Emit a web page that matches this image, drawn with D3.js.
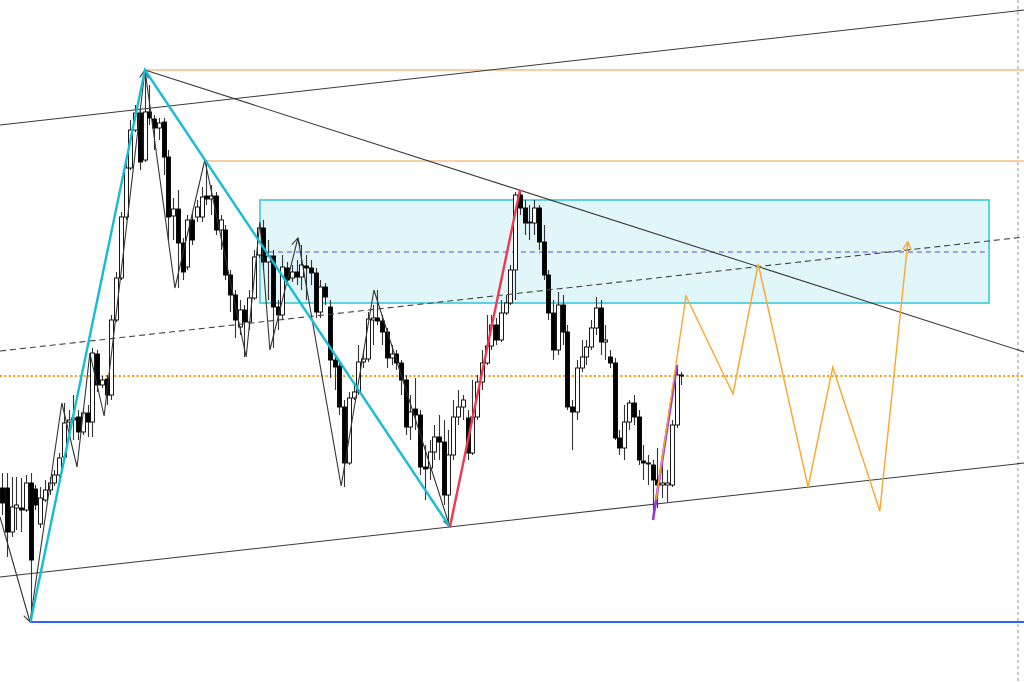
<!DOCTYPE html>
<html><head><meta charset="utf-8">
<script src="https://cdn.jsdelivr.net/npm/d3@7"></script>
<style>html,body{margin:0;padding:0;background:#fff;overflow:hidden}</style>
</head><body><svg id="c" width="1024" height="682"></svg>
<script>
// ---- candle data (index = bar number, price units) ----
const opens = [1612,1612,1568,1592,1592,1590,1617,1611,1576,1600,
1610,1617,1625,1643,1678,1680,1683,1668,1687,1678,
1746,1715,1721,1705,1780,1822,1883,1932,1970,1987,
1940,1988,1981,1972,1978,1943,1884,1891,1857,1833,
1880,1883,1883,1904,1901,1904,1870,1870,1825,1805,
1773,1790,1778,1802,1845,1872,1838,1844,1793,1785,
1832,1822,1828,1823,1834,1832,1827,1788,1813,1793,
1740,1734,1693,1637,1702,1708,1738,1741,1780,1782,
1779,1768,1742,1746,1737,1720,1673,1691,1685,1633,
1632,1648,1663,1658,1605,1645,1683,1693,1682,1647,
1683,1718,1737,1754,1775,1760,1787,1797,1830,1905,
1892,1877,1877,1892,1858,1825,1787,1750,1795,1768,
1693,1688,1732,1743,1753,1772,1792,1758,1743,1737,
1662,1652,1678,1697,1683,1639,1636,1635,1620,1615,
1615,1615,1675,1724];
const highs = [1627,1627,1623,1623,1622,1625,1627,1615,1613,1620,
1623,1630,1647,1697,1690,1705,1690,1692,1695,1752,
1750,1724,1725,1785,1828,1888,1938,1980,1995,1992,
2030,2015,1985,1982,1982,1950,1902,1910,1862,1885,
1888,1900,1913,1940,1915,1908,1885,1875,1830,1810,
1800,1795,1810,1850,1875,1880,1860,1850,1800,1845,
1838,1835,1840,1855,1845,1840,1832,1820,1817,1800,
1745,1740,1700,1708,1715,1755,1750,1788,1795,1810,
1785,1772,1755,1750,1740,1725,1705,1722,1690,1655,
1660,1675,1685,1680,1670,1700,1710,1705,1690,1720,
1725,1750,1785,1785,1782,1800,1805,1835,1908,1910,
1900,1895,1900,1895,1875,1830,1800,1808,1805,1775,
1700,1740,1760,1760,1780,1803,1800,1775,1750,1742,
1670,1695,1700,1705,1690,1655,1645,1640,1652,1647,
1630,1680,1735,1728];
const lows = [1585,1543,1563,1570,1568,1588,1478,1590,1572,1598,
1605,1614,1622,1640,1670,1660,1660,1665,1663,1663,
1708,1712,1695,1700,1778,1820,1880,1930,1968,1930,
1938,1975,1950,1960,1925,1860,1860,1812,1820,1830,
1855,1878,1878,1895,1885,1865,1850,1820,1788,1762,
1765,1743,1770,1800,1842,1830,1800,1752,1770,1780,
1815,1818,1815,1810,1800,1815,1782,1782,1795,1722,
1710,1685,1613,1635,1700,1705,1732,1738,1755,1775,
1755,1732,1735,1730,1705,1665,1660,1670,1625,1600,
1620,1640,1640,1595,1573,1640,1675,1680,1640,1645,
1680,1710,1735,1750,1755,1758,1785,1795,1800,1885,
1865,1860,1865,1850,1820,1780,1740,1745,1755,1690,
1650,1680,1728,1735,1750,1765,1745,1740,1732,1660,
1645,1640,1670,1675,1635,1620,1615,1580,1592,1602,
1598,1613,1672,1715];
const closes = [1597,1568,1593,1595,1590,1617,1540,1595,1602,1610,
1617,1625,1642,1677,1680,1682,1668,1687,1678,1747,
1715,1720,1705,1780,1822,1883,1932,1970,1987,1938,
1988,1982,1972,1977,1943,1883,1891,1857,1828,1880,
1860,1893,1903,1901,1904,1870,1880,1825,1805,1780,
1790,1778,1802,1843,1872,1838,1844,1793,1785,1833,
1820,1828,1823,1835,1832,1827,1788,1813,1803,1740,
1733,1693,1637,1702,1708,1738,1741,1781,1782,1779,
1768,1742,1746,1737,1720,1673,1688,1685,1633,1631,
1648,1663,1658,1605,1645,1683,1693,1700,1647,1683,
1718,1737,1754,1775,1760,1787,1797,1830,1905,1892,
1877,1878,1892,1858,1825,1787,1750,1795,1768,1693,
1688,1732,1743,1753,1772,1792,1758,1760,1737,1662,
1652,1678,1697,1683,1640,1637,1637,1620,1615,1617,
1617,1675,1725,1725];

// ---- drawing objects (bar index, price) ----
const blueLevel = {from: 6, price: 1478};
const orangeLevels = [{from: 30, price: 2030}, {from: 42.7, price: 1939}];
const dottedLevel = 1724;
const zone = {i0: 54.3, i1: 207.8, top: 1900, bottom: 1797};
const midLevel = {i0: 54.3, i1: 206.9, price: 1848};
const trendLines = [
  [[-0.42, 1975], [215.2, 2090]],
  [[30.1, 2030], [215.2, 1748]],
  [[-0.42, 1523], [215.2, 1637]]
];
const dashedTrend = [[-0.42, 1749], [215.2, 1863]];
const cyanWave = [[6, 1478], [30.1, 2030], [94.3, 1573]];
const redWave = [[94.3, 1573], [109.05, 1910]];
const purpleWave = [[137.05, 1580], [142.1, 1735]];
const projection = [[137.7, 1600], [144, 1804], [153.9, 1706], [159.2, 1836], [169.7, 1613], [174.9, 1733], [184.8, 1589], [190.7, 1858]];
const zigzag = [[-0.42, 1583], [5.9, 1478], [12.6, 1697], [15.8, 1633], [18.5, 1747], [21.5, 1684], [30.1, 2030], [36.4, 1812], [42.7, 1940], [51.4, 1743], [54.3, 1878], [56.4, 1750], [62.3, 1862], [71.4, 1614], [78.3, 1810], [94.3, 1573]];
const zigzagArrows = [1, 6, 12, 15];
const vLineIndex = 213.9;

const W = 1024, H = 682;
const svg = d3.select('#c');
const x = d3.scaleLinear().domain([0, 143]).range([2, 681.25]);
const y = d3.scaleLinear().domain([1418, 2100]).range([682, 0]);
const line = d3.line().x(d => x(d[0])).y(d => y(d[1]));

// zone
svg.append('rect')
  .attr('x', x(zone.i0)).attr('y', y(zone.top))
  .attr('width', x(zone.i1) - x(zone.i0)).attr('height', y(zone.bottom) - y(zone.top))
  .attr('fill', '#e1f6f9').attr('stroke', '#4fcfe0').attr('stroke-width', 1.8);
svg.append('line')
  .attr('x1', x(midLevel.i0)).attr('x2', x(midLevel.i1))
  .attr('y1', y(midLevel.price)).attr('y2', y(midLevel.price))
  .attr('stroke', '#5a48d4').attr('stroke-width', 1).attr('stroke-dasharray', '5,4');

// horizontal levels
orangeLevels.forEach(l => {
  svg.append('line').attr('x1', x(l.from)).attr('x2', W)
    .attr('y1', y(l.price)).attr('y2', y(l.price))
    .attr('stroke', '#f0a050').attr('stroke-width', 1);
});
svg.append('line').attr('x1', 0).attr('x2', W)
  .attr('y1', y(dottedLevel)).attr('y2', y(dottedLevel))
  .attr('stroke', '#ff9800').attr('stroke-width', 2).attr('stroke-dasharray', '2,2.4');
svg.append('line').attr('x1', x(blueLevel.from)).attr('x2', W)
  .attr('y1', y(blueLevel.price)).attr('y2', y(blueLevel.price))
  .attr('stroke', '#2962ff').attr('stroke-width', 2);

// vertical dotted line
svg.append('line').attr('x1', x(vLineIndex)).attr('x2', x(vLineIndex))
  .attr('y1', 0).attr('y2', H)
  .attr('stroke', '#c8c8c8').attr('stroke-width', 2).attr('stroke-dasharray', '3,3');

// candles
const bars = d3.range(opens.length).map(i => ({i, o: opens[i], h: highs[i], l: lows[i], c: closes[i]}));
const cg = svg.append('g');
cg.selectAll('line.w').data(bars).enter().append('line')
  .attr('x1', d => Math.round(x(d.i)) + 0.5).attr('x2', d => Math.round(x(d.i)) + 0.5)
  .attr('y1', d => y(d.h)).attr('y2', d => y(d.l))
  .attr('stroke', '#333').attr('stroke-width', 1.1);
cg.selectAll('rect.b').data(bars).enter().append('rect')
  .attr('x', d => Math.round(x(d.i)) - 1.5)
  .attr('y', d => y(Math.max(d.o, d.c)))
  .attr('width', 4)
  .attr('height', d => Math.max(1, Math.abs(y(d.o) - y(d.c))))
  .attr('fill', d => d.c < d.o ? '#000' : '#fff')
  .attr('stroke', '#000').attr('stroke-width', 0.9);

// trend lines
trendLines.forEach(t => svg.append('path').attr('d', line(t)).attr('fill', 'none')
  .attr('stroke', '#3a3a3a').attr('stroke-width', 1.1));
svg.append('path').attr('d', line(dashedTrend)).attr('fill', 'none')
  .attr('stroke', '#444').attr('stroke-width', 1.1).attr('stroke-dasharray', '6,4');

// zigzag
svg.append('path').attr('d', line(zigzag)).attr('fill', 'none')
  .attr('stroke', '#333').attr('stroke-width', 1.1);

function arrowHead(p0, p1, color, len, w) {
  const x0 = x(p0[0]), y0 = y(p0[1]), x1 = x(p1[0]), y1 = y(p1[1]);
  const a = Math.atan2(y1 - y0, x1 - x0);
  const s = 0.5;
  const pts = [[x1 - len * Math.cos(a - s), y1 - len * Math.sin(a - s)], [x1, y1], [x1 - len * Math.cos(a + s), y1 - len * Math.sin(a + s)]];
  svg.append('path').attr('d', d3.line()(pts)).attr('fill', 'none').attr('stroke', color).attr('stroke-width', w);
}
zigzagArrows.forEach(k => arrowHead(zigzag[k - 1], zigzag[k], '#333', 9, 1.1));

// waves
svg.append('path').attr('d', line(cyanWave)).attr('fill', 'none')
  .attr('stroke', '#14bcd4').attr('stroke-width', 2.4);
svg.append('path').attr('d', line(redWave)).attr('fill', 'none')
  .attr('stroke', '#f0384e').attr('stroke-width', 2.4);
svg.append('path').attr('d', line(purpleWave)).attr('fill', 'none')
  .attr('stroke', '#9a3bd0').attr('stroke-width', 2.6);
svg.append('path').attr('d', line(projection)).attr('fill', 'none')
  .attr('stroke', '#ffa52a').attr('stroke-width', 1.4);
arrowHead(projection[projection.length - 2], projection[projection.length - 1], '#ffa52a', 9, 1.4);
</script></body></html>
